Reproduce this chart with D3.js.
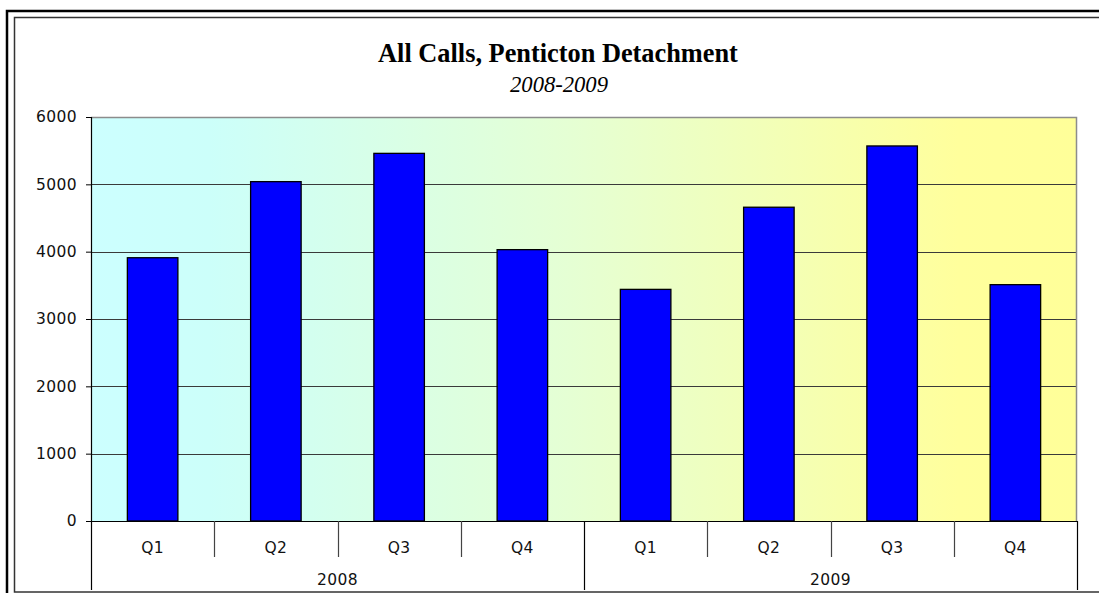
<!DOCTYPE html>
<html><head><meta charset="utf-8">
<script src="https://cdn.jsdelivr.net/npm/d3@7"></script>
<style>body{margin:0;background:#fff;} svg{display:block}</style>
</head><body>
<svg id="c" width="1099" height="593"></svg>
<script>
const years = ["2008", "2009"];
const quarters = ["Q1", "Q2", "Q3", "Q4"];
const values2008 = [3910, 5040, 5460, 4030];
const values2009 = [3440, 4660, 5570, 3510];
const yTicks = [0, 1000, 2000, 3000, 4000, 5000, 6000];
const titleText = "All Calls, Penticton Detachment";
const subtitleText = "2008-2009";

const seriesByYear = {"2008": values2008, "2009": values2009};
const data = years.flatMap(yr => quarters.map((q, i) => ({year: yr, q, key: yr + "-" + q, value: seriesByYear[yr][i]})));

const svg = d3.select("#c");
const W = 1099, H = 593;
const plot = {left: 91, right: 1077, top: 117, bottom: 521};
const sans = "DejaVu Sans, Verdana, sans-serif";

// frame
svg.append("rect").attr("x", 0).attr("y", 0).attr("width", W).attr("height", H).attr("fill", "#fff");
svg.append("rect").attr("x", 7).attr("y", 11).attr("width", W + 20).attr("height", H + 20)
  .attr("fill", "none").attr("stroke", "#000").attr("stroke-width", 2.5);
svg.append("rect").attr("x", 14.5).attr("y", 17.5).attr("width", W + 20).attr("height", 574.5)
  .attr("fill", "none").attr("stroke", "#333").attr("stroke-width", 1.5);

// gradient
const defs = svg.append("defs");
const grad = defs.append("linearGradient").attr("id", "bg").attr("x1", "0%").attr("x2", "100%").attr("y1", "0%").attr("y2", "0%");
grad.append("stop").attr("offset", "0%").attr("stop-color", "#CCFFFF");
grad.append("stop").attr("offset", "12%").attr("stop-color", "#CCFFFA");
grad.append("stop").attr("offset", "50%").attr("stop-color", "#E6FFD2");
grad.append("stop").attr("offset", "88%").attr("stop-color", "#FFFF9C");
grad.append("stop").attr("offset", "100%").attr("stop-color", "#FFFF99");

const x = d3.scaleBand().domain(data.map(d => d.key)).range([plot.left, plot.right]).paddingInner(0).paddingOuter(0);
const y = d3.scaleLinear().domain([0, 6000]).range([plot.bottom, plot.top]);

svg.append("rect").attr("x", plot.left).attr("y", plot.top)
  .attr("width", plot.right - plot.left).attr("height", plot.bottom - plot.top)
  .attr("fill", "url(#bg)");

// gridlines
svg.append("g").selectAll("line").data(yTicks.filter(v => v > 0 && v < 6000)).join("line")
  .attr("x1", plot.left).attr("x2", plot.right)
  .attr("y1", d => Math.round(y(d)) + 0.5).attr("y2", d => Math.round(y(d)) + 0.5)
  .attr("stroke", "#3a3a3a").attr("stroke-width", 1);

// plot border top/right
svg.append("path").attr("d", `M${plot.left},${plot.top + 0.5}H${plot.right - 0.5}V${plot.bottom}`)
  .attr("fill", "none").attr("stroke", "#8c8c8c").attr("stroke-width", 1.5);

// bars
const bw = x.bandwidth() * 0.41;
svg.append("g").selectAll("rect").data(data).join("rect")
  .attr("x", d => x(d.key) + (x.bandwidth() - bw) / 2)
  .attr("y", d => y(d.value))
  .attr("width", bw)
  .attr("height", d => y(0) - y(d.value))
  .attr("fill", "#0000FF").attr("stroke", "#000").attr("stroke-width", 1.3);

// y axis
const yAxis = d3.axisLeft(y).tickValues(yTicks).tickSize(5).tickPadding(9).tickFormat(d3.format("d"));
const ya = svg.append("g").attr("transform", `translate(${plot.left},0)`).call(yAxis);
ya.select(".domain").remove();
ya.selectAll(".tick line").attr("stroke", "#000");
ya.selectAll(".tick text").attr("font-family", sans)
  .attr("font-size", 15.5).attr("letter-spacing", "0.4px").attr("fill", "#111");
svg.append("line").attr("x1", plot.left + 0.5).attr("x2", plot.left + 0.5)
  .attr("y1", plot.top).attr("y2", plot.bottom).attr("stroke", "#000").attr("stroke-width", 1.2);

// x axis baseline
svg.append("line").attr("x1", plot.left - 5).attr("x2", plot.right)
  .attr("y1", plot.bottom + 0.5).attr("y2", plot.bottom + 0.5).attr("stroke", "#000").attr("stroke-width", 1.2);

// category separators
const sepG = svg.append("g");
data.forEach((d, i) => {
  const isYearStart = i % quarters.length === 0;
  const xx = Math.round(x(d.key)) + 0.5;
  sepG.append("line").attr("x1", xx).attr("x2", xx).attr("y1", plot.bottom)
    .attr("y2", isYearStart ? 590 : 557).attr("stroke", isYearStart ? "#000" : "#444").attr("stroke-width", 1.2);
});
sepG.append("line").attr("x1", plot.right + 0.5).attr("x2", plot.right + 0.5).attr("y1", plot.bottom)
  .attr("y2", 590).attr("stroke", "#000").attr("stroke-width", 1.2);

// quarter labels
svg.append("g").selectAll("text").data(data).join("text")
  .attr("x", d => x(d.key) + x.bandwidth() / 2).attr("y", 547).attr("dy", "0.36em")
  .attr("text-anchor", "middle").attr("font-family", sans)
  .attr("font-size", 15.5).attr("letter-spacing", "0.4px").attr("fill", "#111").text(d => d.q);

// year labels
svg.append("g").selectAll("text").data(years).join("text")
  .attr("x", yr => {
    const ks = data.filter(d => d.year === yr).map(d => d.key);
    return (x(ks[0]) + x(ks[ks.length - 1]) + x.bandwidth()) / 2;
  })
  .attr("y", 579).attr("dy", "0.36em")
  .attr("text-anchor", "middle").attr("font-family", sans)
  .attr("font-size", 15.5).attr("letter-spacing", "0.4px").attr("fill", "#111").text(d => d);

// titles
const t = svg.append("text").attr("x", 558).attr("y", 62).attr("text-anchor", "middle")
  .attr("font-family", "Liberation Serif, Times New Roman, serif").attr("font-weight", "bold")
  .attr("font-size", 22).attr("fill", "#000").text(titleText);
const tw = t.node().getComputedTextLength();
t.attr("font-size", 22 * 360 / tw);
const s = svg.append("text").attr("x", 559).attr("y", 92).attr("text-anchor", "middle")
  .attr("font-family", "Liberation Serif, Times New Roman, serif").attr("font-style", "italic")
  .attr("font-size", 20).attr("fill", "#000").text(subtitleText);
const sw = s.node().getComputedTextLength();
s.attr("font-size", 20 * 98 / sw);
</script>
</body></html>
